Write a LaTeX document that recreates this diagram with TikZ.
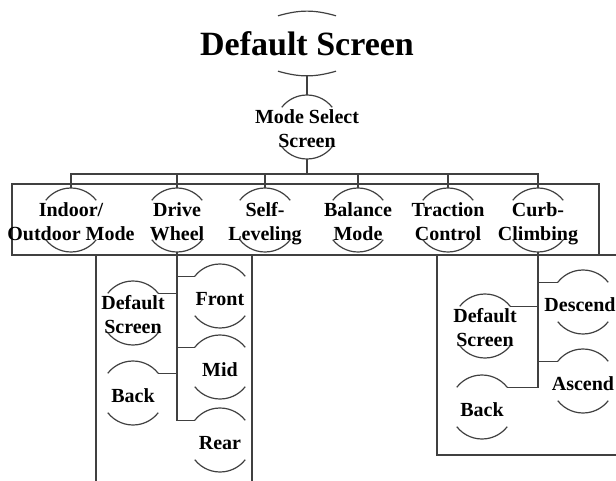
\documentclass[tikz,border=0pt]{standalone}
\usepackage{fontspec}
\setmainfont{Liberation Serif}
\definecolor{linegray}{HTML}{404040}
\tikzset{
  link/.style={draw=linegray, line width=1.2pt},
  frame/.style={draw=linegray, line width=1.2pt},
  bub/.style={circle, minimum size=64pt, inner sep=0pt, outer sep=0pt},
  txt/.style={font=\bfseries\fontsize{20}{23.5}\selectfont, align=center, inner sep=0pt,
    yshift=-5pt, execute at begin node=\strut, execute at end node=\strut},
}

\begin{document}
\begin{tikzpicture}[x=1pt,y=1pt]
  \useasboundingbox (0,0) rectangle (616,-481);
  \clip (0,0) rectangle (616,-481);
  % frames
  \draw[frame] (12,-184) rectangle (599,-255);
  \draw[frame] (96,-255) rectangle (252,-500);
  \draw[frame] (437,-255) rectangle (640,-455);

  % title
  \node[font=\bfseries\fontsize{34}{40}\selectfont, minimum height=62pt, inner sep=0pt] (ds) at (307,-44) {Default Screen};
  \draw[link] ([xshift=-29pt,yshift=-3pt]ds.north) to[bend left=16] ([xshift=29pt,yshift=-3pt]ds.north);
  \draw[link] ([xshift=-29pt,yshift=4pt]ds.south) to[bend right=16] ([xshift=29pt,yshift=4pt]ds.south);

  % mode select
  \node[bub, label={[txt]center:{Mode Select\\Screen}}] (ms) at (307,-127) {};
  \coordinate (bar) at (307,-174);

  % modes
  \node[bub, label={[txt]center:{Indoor/\\Outdoor Mode}}] (io) at (71,-220) {};
  \node[bub, label={[txt]center:{Drive\\Wheel}}] (dw) at (177,-220) {};
  \node[bub, label={[txt]center:{Self-\\Leveling}}] (sl) at (265,-220) {};
  \node[bub, label={[txt]center:{Balance\\Mode}}] (bm) at (358,-220) {};
  \node[bub, label={[txt]center:{Traction\\Control}}] (tc) at (448,-220) {};
  \node[bub, label={[txt]center:{Curb-\\Climbing}}] (cc) at (538,-220) {};

  % drive wheel
  \node[bub, label={[txt]center:{Default\\Screen}}] (dl) at (133,-313) {};
  \node[bub, label={[txt]center:Back}] (bl) at (133,-393) {};
  \node[bub, label={[txt]center:Front}] (fr) at (220,-296) {};
  \node[bub, label={[txt]center:Mid}] (md) at (220,-367) {};
  \node[bub, label={[txt]center:Rear}] (rr) at (220,-440) {};

  % curb climbing
  \node[bub, label={[txt]center:{Default\\Screen}}] (dr) at (485,-326) {};
  \node[bub, label={[txt]center:Back}] (br) at (482,-407) {};
  \node[bub, label={[txt,xshift=-3pt]center:Descend}] (dsc) at (583,-302) {};
  \node[bub, label={[txt]center:Ascend}] (asc) at (583,-381) {};

  \foreach \n in {ms,io,dw,sl,bm,tc,cc,dl,bl,fr,md,rr,dr,br,dsc,asc}
    \draw[link] (\n.38) arc[start angle=38,end angle=142,radius=32pt]
                (\n.218) arc[start angle=218,end angle=322,radius=32pt];

  % connectors
  \draw[link] (ds.south) -- (ms.north);
  \draw[link] (ms.south) -- (bar);
  \foreach \n in {io,dw,sl,bm,tc,cc}
    \draw[link] (bar) -| (\n.north);
  \foreach \n in {fr,md,rr}
    \draw[link] (dw.south) |- (\n.142);
  \foreach \n in {dl,bl}
    \draw[link] (dw.south) |- (\n.38);
  \foreach \n in {dsc,asc}
    \draw[link] (cc.south) |- (\n.142);
  \foreach \n in {dr,br}
    \draw[link] (cc.south) |- (\n.38);
\end{tikzpicture}
\end{document}
